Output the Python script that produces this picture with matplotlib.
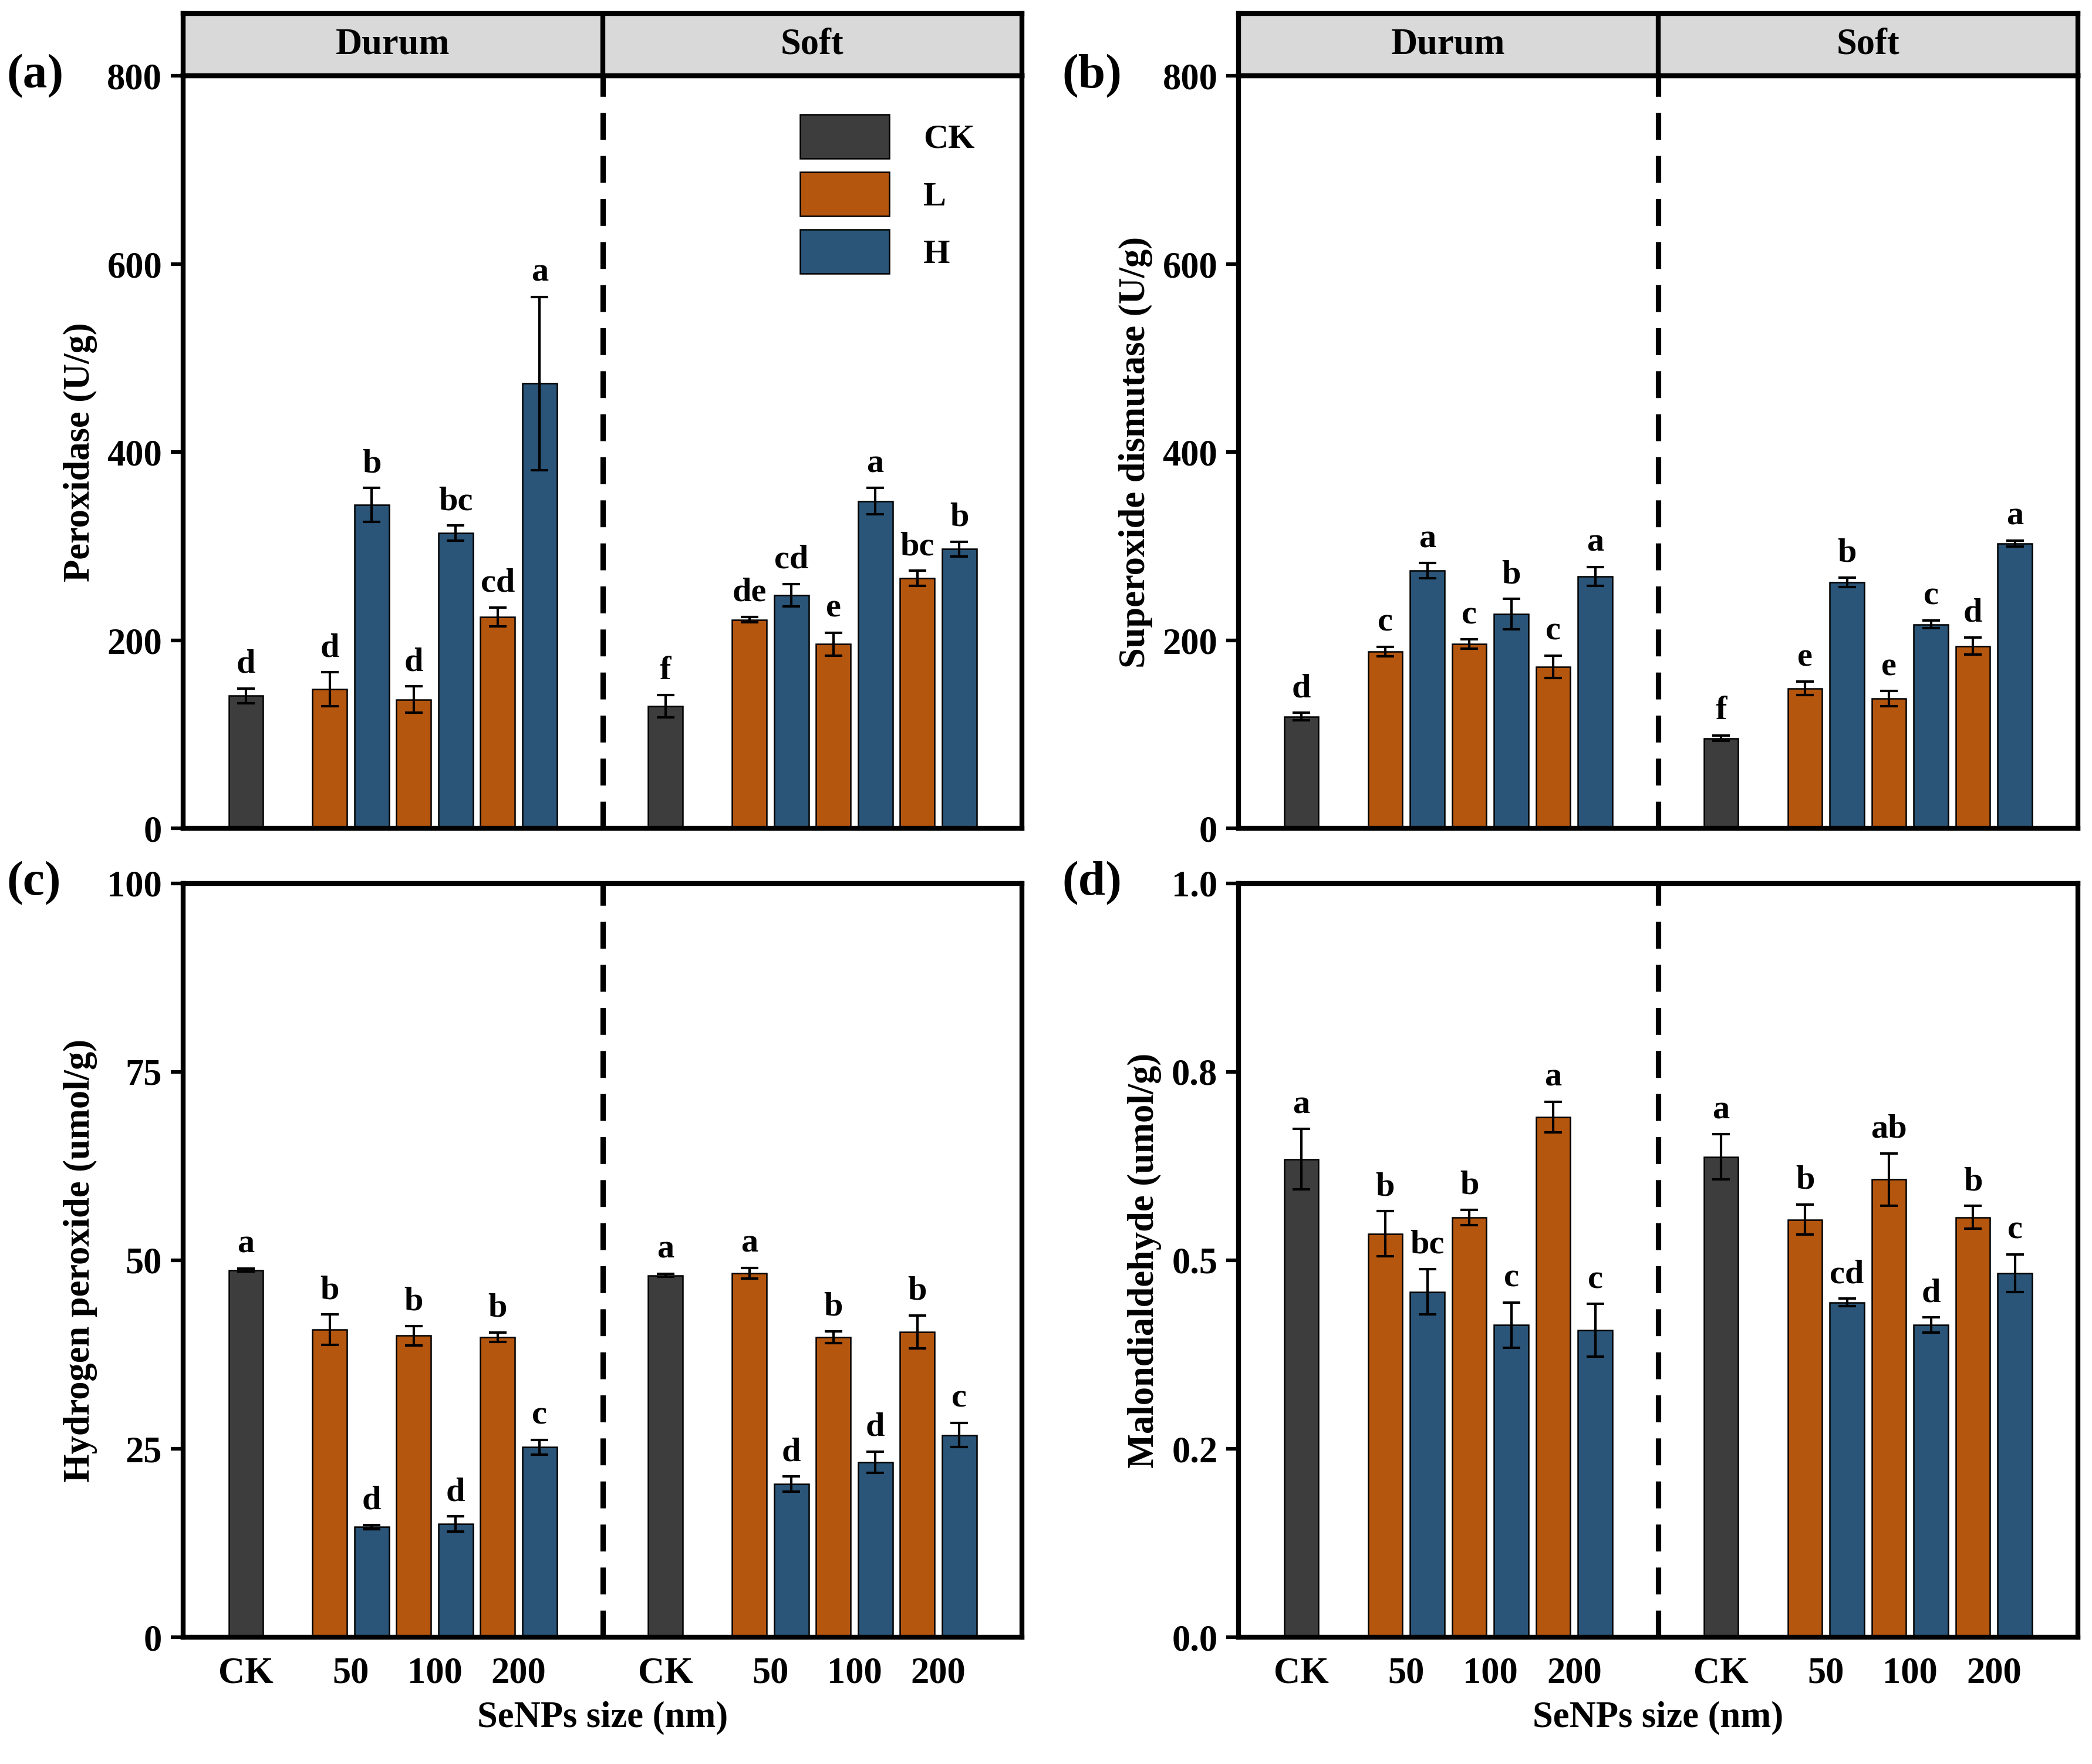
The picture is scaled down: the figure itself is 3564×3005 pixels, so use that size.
import numpy as np
import matplotlib.pyplot as plt
from matplotlib.patches import Patch

plt.rcParams['font.family'] = ['Liberation Serif', 'DejaVu Serif']
plt.rcParams['font.weight'] = 'bold'

c_ck, c_l, c_h = '#3d3d3d', '#b5560f', '#2a5578'
order = ['CK', 'L', 'H', 'L', 'H', 'L', 'H']
pos_durum = [0, 2, 3, 4, 5, 6, 7]
pos_soft = [10, 12, 13, 14, 15, 16, 17]

# values: Durum (CK, L50, H50, L100, H100, L200, H200) then Soft same order
pod = [141, 148, 344, 137, 314, 225, 473, 130, 222, 248, 196, 348, 266, 297]
pod_err = [8, 18, 18, 14, 8, 10, 92, 12, 3, 12, 12, 14, 8, 8]
pod_let = ['d', 'd', 'b', 'd', 'bc', 'cd', 'a', 'f', 'de', 'cd', 'e', 'a', 'bc', 'b']

sod = [119, 188, 274, 196, 228, 172, 268, 96, 149, 262, 138, 217, 194, 303]
sod_err = [4, 5, 8, 5, 16, 12, 10, 3, 7, 5, 8, 4, 9, 3]
sod_let = ['d', 'c', 'a', 'c', 'b', 'c', 'a', 'f', 'e', 'b', 'e', 'c', 'd', 'a']

h2o2 = [48.7, 40.8, 14.6, 40.0, 15.0, 39.8, 25.2, 48.0, 48.3, 20.3, 39.8, 23.2, 40.5, 26.8]
h2o2_err = [0.2, 2.0, 0.3, 1.3, 1.0, 0.6, 1.0, 0.2, 0.7, 1.0, 0.8, 1.4, 2.2, 1.6]
h2o2_let = ['a', 'b', 'd', 'b', 'd', 'b', 'c', 'a', 'a', 'd', 'b', 'd', 'b', 'c']

mda = [0.634, 0.535, 0.458, 0.557, 0.414, 0.69, 0.407, 0.637, 0.554, 0.444, 0.607, 0.414, 0.557, 0.483]
mda_err = [0.04, 0.03, 0.03, 0.01, 0.03, 0.02, 0.035, 0.03, 0.02, 0.005, 0.035, 0.01, 0.015, 0.025]
mda_let = ['a', 'b', 'bc', 'b', 'c', 'a', 'c', 'a', 'b', 'cd', 'ab', 'd', 'b', 'c']

xtick_pos = [0, 2.5, 4.5, 6.5, 10, 12.5, 14.5, 16.5]
xtick_lab = ['CK', '50', '100', '200'] * 2

fig = plt.figure(figsize=(11.883, 10.017), dpi=300)
L1, R1 = 0.0874, 0.4885
L2, R2 = 0.5918, 0.993
T1, B1 = 0.9569, 0.5303
T2, B2 = 0.4992, 0.0719
cmap = {'CK': c_ck, 'L': c_l, 'H': c_h}


def panel(rect, vals, errs, lets, ylim, yticks, ylabel, tag, header, xlab, fmt=None, legend=False):
    ax = fig.add_axes(rect)
    pos = pos_durum + pos_soft
    cols = [cmap[k] for k in order * 2]
    ax.bar(pos, vals, width=0.82, color=cols, edgecolor='black', linewidth=0.6,
           yerr=errs, capsize=3.5, error_kw=dict(elinewidth=1, capthick=1, ecolor='black'))
    off = (ylim[1] - ylim[0]) * 0.012
    for p, v, e, t in zip(pos, vals, errs, lets):
        ax.text(p, v + e + off, t, ha='center', va='bottom', fontsize=14, fontweight='bold')
    ax.axvline(8.5, color='black', lw=2.2, ls=(0, (5, 3)))
    ax.set_xlim(-1.5, 18.5)
    ax.set_ylim(*ylim)
    ax.set_yticks(yticks)
    if fmt:
        ax.set_yticklabels([fmt % t for t in yticks])
    ax.set_ylabel(ylabel, fontsize=15, fontweight='bold')
    ax.tick_params(axis='y', labelsize=15, width=1.5, length=5, direction='out')
    if xlab:
        ax.set_xticks(xtick_pos)
        ax.set_xticklabels(xtick_lab, fontsize=15)
        ax.tick_params(axis='x', length=0, pad=8)
        ax.set_xlabel('SeNPs size (nm)', fontsize=15, fontweight='bold')
    else:
        ax.set_xticks([])
    for s in ax.spines.values():
        s.set_linewidth(2)
    ax.text(-0.21, 1.0, tag, transform=ax.transAxes, fontsize=20, fontweight='bold', va='center')
    if header:
        h = fig.add_axes([rect[0], rect[1] + rect[3], rect[2], 0.0355])
        h.set_facecolor('#d9d9d9')
        h.set_xlim(-1.5, 18.5)
        h.set_xticks([]); h.set_yticks([])
        h.axvline(8.5, color='black', lw=2)
        h.text(3.5, 0.5, 'Durum', ha='center', va='center', fontsize=15, fontweight='bold')
        h.text(13.5, 0.5, 'Soft', ha='center', va='center', fontsize=15, fontweight='bold')
        for s in h.spines.values():
            s.set_linewidth(2)
    if legend:
        hs = [Patch(facecolor=c, edgecolor='black', linewidth=0.6) for c in (c_ck, c_l, c_h)]
        ax.legend(hs, ['CK', 'L', 'H'], loc='upper right', bbox_to_anchor=(0.98, 0.99), frameon=False,
                  fontsize=14, handlelength=2.6, handleheight=1.6, labelspacing=0.4, handletextpad=1.0)
    return ax


panel([L1, B1, R1 - L1, T1 - B1], pod, pod_err, pod_let, (0, 800), [0, 200, 400, 600, 800],
      'Peroxidase (U/g)', '(a)', True, False, legend=True)
panel([L2, B1, R2 - L2, T1 - B1], sod, sod_err, sod_let, (0, 800), [0, 200, 400, 600, 800],
      'Superoxide dismutase (U/g)', '(b)', True, False)
panel([L1, B2, R1 - L1, T2 - B2], h2o2, h2o2_err, h2o2_let, (0, 100), [0, 25, 50, 75, 100],
      'Hydrogen peroxide (umol/g)', '(c)', False, True)
panel([L2, B2, R2 - L2, T2 - B2], mda, mda_err, mda_let, (0, 1), [0, 0.25, 0.5, 0.75, 1.0],
      'Malondialdehyde (umol/g)', '(d)', False, True, fmt='%.1f')

fig.savefig('out.png', dpi=300)
